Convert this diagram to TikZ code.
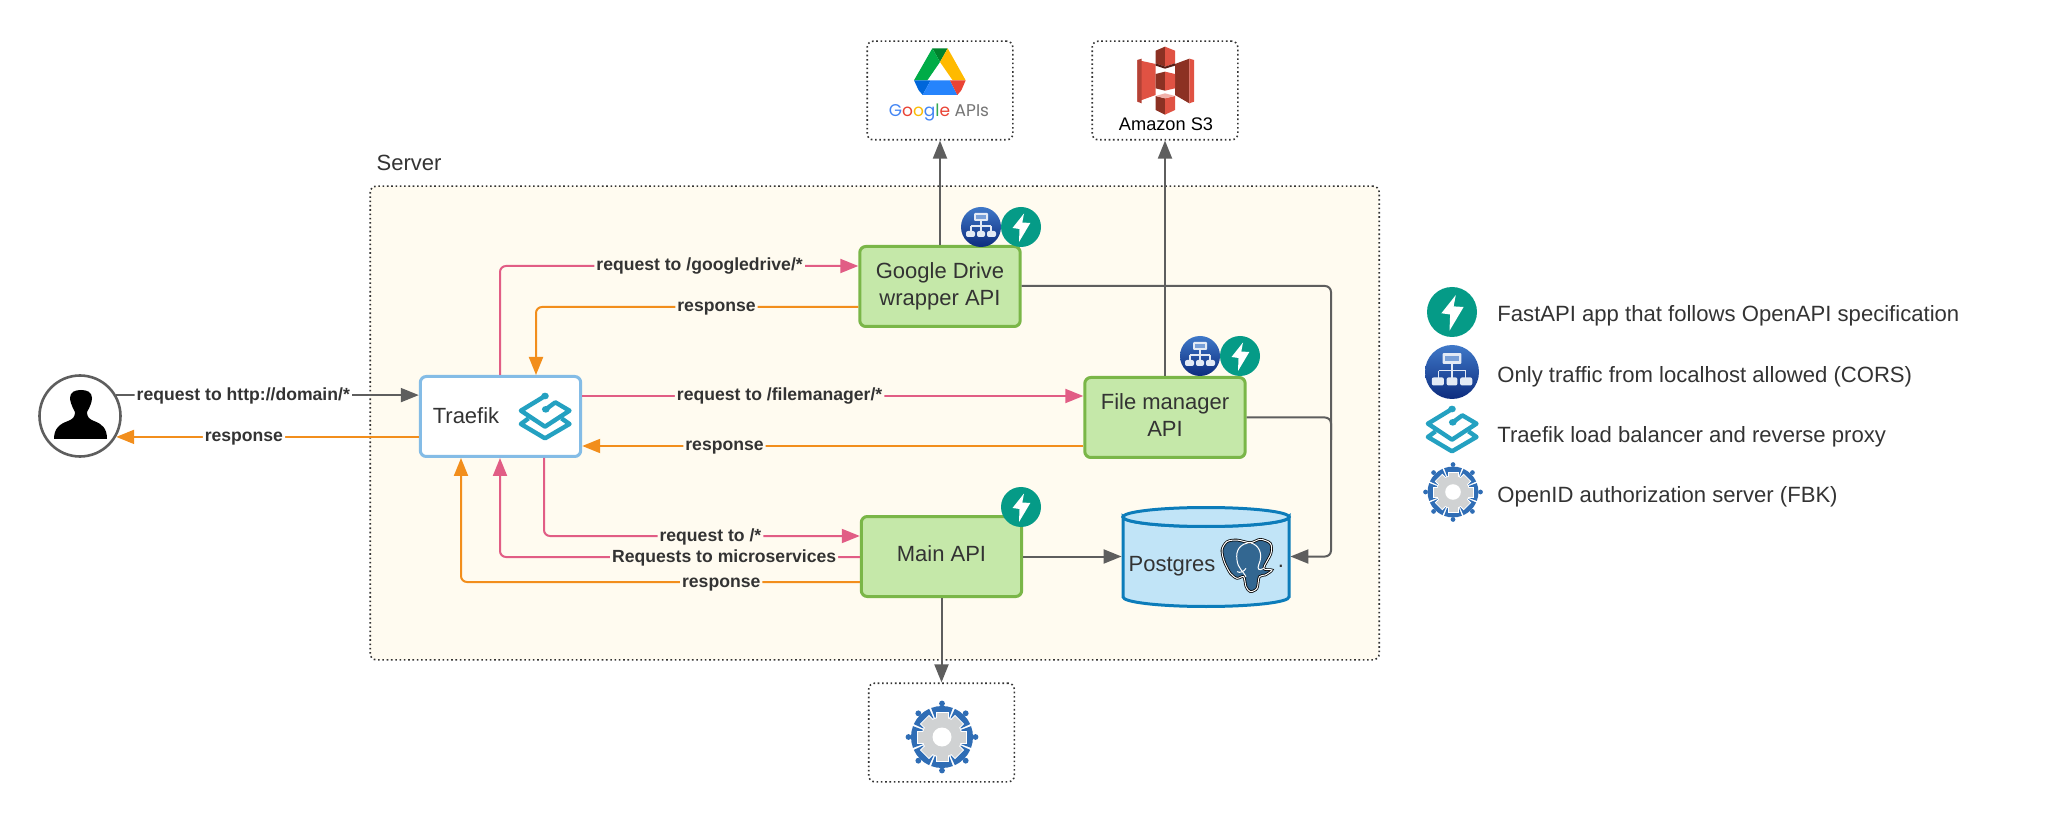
\documentclass[tikz,border=0pt]{standalone}
\usepackage{fontspec}
\setmainfont{Liberation Sans}
\newfontfamily\googlefont{Poppins}
\usetikzlibrary{arrows.meta}

\definecolor{serverfill}{HTML}{FFFBF0}
\definecolor{apifill}{HTML}{C5E8A9}
\definecolor{apiedge}{HTML}{7AB648}
\definecolor{tkedge}{HTML}{84BCE6}
\definecolor{pgfill}{HTML}{C1E4F7}
\definecolor{pgedge}{HTML}{0C7CBA}
\definecolor{grayline}{HTML}{5E5E5E}
\definecolor{pinkline}{HTML}{E15D85}
\definecolor{orangeline}{HTML}{F28E1C}
\definecolor{txtgray}{HTML}{333333}
\definecolor{fastteal}{HTML}{059B87}
\definecolor{corstop}{HTML}{3F78C8}
\definecolor{corsbot}{HTML}{0D2C7E}
\definecolor{corswhite}{HTML}{E3EAF5}
\definecolor{tkteal}{HTML}{24A1C1}
\definecolor{idblue}{HTML}{2F6DB5}
\definecolor{idgray}{HTML}{D0D2D3}
\definecolor{pgblue}{HTML}{336791}
\definecolor{s3light}{HTML}{E05243}
\definecolor{s3dark}{HTML}{8C3123}

\tikzset{
  dotbox/.style={draw=txtgray, line width=.8pt, dash pattern=on .8pt off 1.35pt, rounded corners=3pt},
  extbox/.style={dotbox, fill=white, minimum width=72.8pt, minimum height=49.3pt, inner sep=0pt},
  apibox/.style={draw=apiedge, fill=apifill, line width=1.5pt, rounded corners=3pt, minimum width=80.2pt,
    minimum height=40pt, inner sep=0pt, align=center, text=txtgray, font=\fontsize{11}{13.5}\selectfont},
  plain/.style={inner sep=0pt, text=txtgray, font=\fontsize{11}{13.5}\selectfont},
  legend/.style={plain, anchor=west, font=\fontsize{11.05}{13.5}\selectfont},
  lbl/.style={fill=serverfill, inner xsep=1pt, inner ysep=0pt, text height=7pt, text depth=2pt,
    text=txtgray, font=\bfseries\fontsize{8.8}{10}\selectfont},
  conn/.style={line width=1pt, rounded corners=3pt, -{Triangle[length=9pt,width=7pt]}},
  grayconn/.style={conn, draw=grayline, color=grayline},
  pinkconn/.style={conn, draw=pinkline, color=pinkline},
  orangeconn/.style={conn, draw=orangeline, color=orangeline},
  fasticon/.pic={
    \fill[fastteal] (0,0) circle (20);
    \fill[white] (3,-13.5) -- (-8.5,1) -- (-1.5,2) -- (-2,15) -- (9.3,-4) -- (1.3,-4.5) -- cycle;
  },
  corsicon/.pic={
    \shade[top color=corstop, bottom color=corsbot] (0,0) circle (20);
    \fill[corswhite, rounded corners=.5pt] (-7,-14) rectangle (7,-6);
    \fill[corstop!70!white] (-5,-12) rectangle (5,-8);
    \draw[corswhite, line width=.6pt] (0,-6) -- (0,5) (-10,-1) -- (10,-1) (-10,-1) -- (-10,5) (10,-1) -- (10,5);
    \fill[corswhite, rounded corners=1pt] (-15,4) rectangle (-6,10) (-4,4) rectangle (4,10) (6,4) rectangle (15,10);
  },
  tkicon/.pic={
    \begin{scope}[xscale=.3827, yscale=.3333, shift={(-1373,-198)}]
      \draw[tkteal, line width=2.2pt, line join=round] (1373,138) -- (1310,182) -- (1373,230) -- (1437,182) -- (1400,157) -- (1375,178);
      \draw[tkteal, line width=2.2pt, line join=round] (1330,205) -- (1310,222) -- (1373,265) -- (1437,222) -- (1416,205);
      \fill[tkteal] (1373,138) circle (10) (1375,178) circle (10);
    \end{scope}
  },
  idicon/.pic={
    \foreach \a in {0,45,...,315} {
      \fill[idblue] (\a-20.5:19) -- (\a-20.5:31) arc (\a-20.5:\a+20.5:31) -- (\a+20.5:19) arc (\a+20.5:\a-20.5:19) -- cycle;
      \fill[idblue] (\a:33.5) circle (2.9);
    }
    \fill[white] (0,0) circle (20.5);
    \foreach \a in {0,45,...,315} {
      \begin{scope}[rotate=\a]
        \draw[white, fill=idgray, line width=.4pt] (17,-6) rectangle (24.5,6);
      \end{scope}
    }
    \fill[idgray] (0,0) circle (19.5);
    \fill[white] (0,0) circle (9.5);
  },
  driveicon/.pic={
    \begin{scope}[scale=.3333, shift={(-300,-155)}]
      \fill[fill={rgb,255:red,0;green,131;blue,45}] (277,84) -- (323,84) -- (300,125) -- cycle;
      \fill[fill={rgb,255:red,0;green,172;blue,71}] (277,84) -- (300,125) -- (262,180) -- (222,180) -- cycle;
      \fill[fill={rgb,255:red,255;green,186;blue,0}] (323,84) -- (377,180) -- (338,180) -- (300,125) -- cycle;
      \fill[fill={rgb,255:red,0;green,102;blue,218}] (222,180) -- (272,180) -- (248,224) -- (236,210) -- cycle;
      \fill[fill={rgb,255:red,38;green,132;blue,252}] (272,180) -- (330,180) -- (352,224) -- (248,224) -- cycle;
      \fill[fill={rgb,255:red,234;green,67;blue,53}] (330,180) -- (377,180) -- (364,210) -- (352,224) -- cycle;
    \end{scope}
  },
  sthreeicon/.pic={
    \begin{scope}[scale=.3333, shift={(-975,-180)}]
      \fill[s3light] (892,120) -- (947,132) -- (947,225) -- (892,245) -- cycle;
      \fill[s3light!80!black] (892,120) -- (905,116) -- (905,250) -- (892,245) -- cycle;
      \fill[s3dark] (1005,132) -- (1048,116) -- (1048,250) -- (1005,225) -- cycle;
      \fill[s3light] (1048,116) -- (1062,120) -- (1062,245) -- (1048,250) -- cycle;
      % top block
      \fill[s3dark] (947,92) -- (975,80) -- (975,140) -- (947,130) -- cycle;
      \fill[s3light] (975,80) -- (1005,92) -- (1005,130) -- (975,140) -- cycle;
      \fill[s3dark!60!black] (947,130) -- (975,140) -- (1005,130) -- (1005,137) -- (975,146) -- (947,137) -- cycle;
      % middle block
      \fill[s3dark] (947,162) -- (975,155) -- (975,212) -- (947,205) -- cycle;
      \fill[s3light] (975,155) -- (1005,162) -- (1005,205) -- (975,212) -- cycle;
      % bottom block
      \fill[s3dark] (947,228) -- (975,235) -- (975,284) -- (947,270) -- cycle;
      \fill[s3light] (975,235) -- (1005,228) -- (1005,270) -- (975,284) -- cycle;
      \fill[s3light!45!white] (947,228) -- (975,220) -- (1005,228) -- (975,235) -- cycle;
    \end{scope}
  },
  pgicon/.pic={
    \begin{scope}[scale=.3333, shift={(-500,-735)}]
      \draw[black, fill=pgblue, line width=1.3pt] plot[smooth cycle] coordinates {(470,660) (440,665) (425,690) (432,725)
        (450,760) (470,775) (490,770) (497,800) (510,815) (530,805) (537,770) (555,765) (575,750) (550,745) (572,700)
        (570,670) (540,658) (510,668)};
      \draw[white, line width=.5pt] plot[smooth cycle] coordinates {(470,660) (440,665) (425,690) (432,725)
        (450,760) (470,775) (490,770) (497,800) (510,815) (530,805) (537,770) (555,765) (575,750) (550,745) (572,700)
        (570,670) (540,658) (510,668)};
      \draw[white, line width=.5pt] (510,668) .. controls (480,670) and (465,690) .. (470,720) .. controls (472,745) and (490,755) .. (497,770);
      \draw[white, line width=.5pt] (510,668) .. controls (535,675) and (550,700) .. (535,735) .. controls (530,745) and (535,755) .. (550,745);
      \draw[white, line width=.5pt] (470,755) .. controls (480,760) and (490,755) .. (497,745);
    \end{scope}
  },
}

\begin{document}
\begin{tikzpicture}[x=.5pt, y=-.5pt]
  \useasboundingbox (0,0) rectangle (2056,823);

  % server area
  \node[dotbox, fill=serverfill, minimum width=504.5pt, minimum height=236.8pt, inner sep=0pt] (server) at (874.7,423) {};
  \node[plain] (servertxt) at (409,163) {Server};

  % outside services
  \node[extbox] (googlebox) at (940,90.5) {};
  \node[extbox] (s3box) at (1165,90.5) {};
  \node[extbox] (openid) at (941.5,732.5) {};

  % user
  \node[circle, draw=grayline, fill=white, line width=1.3pt, minimum size=40.5pt, inner sep=0pt] (user) at (80,416) {};
  \fill[black] (54,439) .. controls (54,428) and (60,424) .. (68,421) .. controls (73,419) and (75,417) .. (75,412)
    .. controls (71,405) and (70,400) .. (70,398) .. controls (70,392) and (75,390) .. (81,390)
    .. controls (87,390) and (92,392) .. (92,398) .. controls (92,402) and (90,407) .. (87,412)
    .. controls (87,417) and (89,419) .. (94,421) .. controls (102,424) and (107,428) .. (107,439) -- cycle;

  % boxes
  \node[apibox, draw=tkedge, fill=white] (traefik) at (500.5,416.5) {};
  \node[plain] (traefiktxt) at (466,416) {Traefik};
  \node[apibox] (gdrive) at (940,286.5) {Google Drive\\wrapper API};
  \node[apibox, text depth=2.6pt] (fileapi) at (1165,417.5) {File manager\\API};
  \node[apibox, text depth=3pt] (mainapi) at (941.5,556.5) {Main API};
  \node[minimum width=84pt, minimum height=50.5pt, inner sep=0pt] (pg) at (1206,556.5) {};
  \draw[draw=pgedge, fill=pgfill, line width=1.5pt] (1123,517) -- (1123,597) arc (180:0:83 and 9.5) -- (1289,517) arc (0:180:83 and 9.5) -- cycle;
  \draw[draw=pgedge, fill=pgfill, line width=1.5pt] (1206,517) ellipse (83 and 9.5);
  \node[plain] (pgtxt) at (1172,566) {Postgres};
  \node[plain] (pgdot) at (1281,566) {.};

  % connectors
  \draw[grayconn] (user.30) -- node[lbl, fill=white, pos=.42] (lbldomain) {request to http://domain/*} (traefik.west |- user.30);
  \draw[orangeconn] (traefik.west |- user.-30) -- node[lbl, fill=white, pos=.578] (lbluser) {response} (user.-30);
  \draw[pinkconn] (500,0 |- traefik.north) -- (500,266) -- node[lbl, pos=.557] (lblgd) {request to /googledrive/*} (gdrive.west |- 0,266);
  \draw[orangeconn] (gdrive.west |- 0,307) -- node[lbl, pos=.44] (lblgdback) {response} (536,307) -- (536,0 |- traefik.north);
  \draw[pinkconn] (traefik.east |- 0,396) -- node[lbl, pos=.394] (lblfile) {request to /filemanager/*} (fileapi.west |- 0,396);
  \draw[orangeconn] (fileapi.west |- 0,446) -- node[lbl, pos=.716] (lblfileback) {response} (traefik.east |- 0,446);
  \draw[pinkconn] (544,0 |- traefik.south) -- (544,536) -- node[lbl, pos=.527] (lblmain) {request to /*} (mainapi.west |- 0,536);
  \draw[pinkconn] (mainapi.west |- 0,557) -- node[lbl, pos=.377] (lblmicro) {Requests to microservices} (500,557) -- (500,0 |- traefik.south);
  \draw[orangeconn] (mainapi.west |- 0,582) -- node[lbl, pos=.3475] (lblmainback) {response} (461,582) -- (461,0 |- traefik.south);
  \draw[grayconn] (gdrive.north) -- (googlebox.south);
  \draw[grayconn] (fileapi.north) -- (s3box.south);
  \draw[grayconn] (mainapi.south) -- (openid.north);
  \draw[grayconn] (mainapi.east) -- (pg.west);
  \draw[grayconn] (gdrive.east |- 0,286) -- (1331,286) -- (1331,556.5) -- (pg.east);
  \draw[grayline, line width=1pt, rounded corners=3pt] (fileapi.east) -- (1331,417.5) -- (1331,440);

  % logos
  \pic (tklogo) at (545,416) {tkicon};
  \pic (pglogo) at (1247,565) {pgicon};
  \pic (drivelogo) at (940,72) {driveicon};
  \pic (s3logo) at (1165,80) {sthreeicon};
  \pic (idlogo) at (942,737) {idicon};
  \node[inner sep=0pt, font=\googlefont\fontsize{8.5}{11}\selectfont] (googletxt) at (939,113)
    {\textcolor[HTML]{4285F4}{G}\textcolor[HTML]{EA4335}{o}\textcolor[HTML]{FBBC05}{o}\textcolor[HTML]{4285F4}{g}\textcolor[HTML]{34A853}{l}\textcolor[HTML]{EA4335}{e} \textcolor[HTML]{757575}{APIs}};
  \node[inner sep=0pt, text=black, font=\fontsize{9.1}{12}\selectfont] (s3txt) at (1166,124) {Amazon S3};

  % badges
  \pic (gdcors) at (981,227) {corsicon};
  \pic (gdfast) at (1021,227) {fasticon};
  \pic (filecors) at (1200,356) {corsicon};
  \pic (filefast) at (1240,356) {fasticon};
  \pic (mainfast) at (1021,507) {fasticon};

  % legend
  \pic[scale=1.25] (legfast) at (1452,312) {fasticon};
  \pic[scale=1.35] (legcors) at (1452,372) {corsicon};
  \pic (legtk) at (1452,429) {tkicon};
  \pic[scale=.82] (legid) at (1453,492) {idicon};
  \node[legend] (legfasttxt) at (1497,316) {FastAPI app that follows OpenAPI specification};
  \node[legend] (legcorstxt) at (1497,377) {Only traffic from localhost allowed (CORS)};
  \node[legend] (legtktxt) at (1497,437) {Traefik load balancer and reverse proxy};
  \node[legend] (legidtxt) at (1497,497) {OpenID authorization server (FBK)};
\end{tikzpicture}
\end{document}
